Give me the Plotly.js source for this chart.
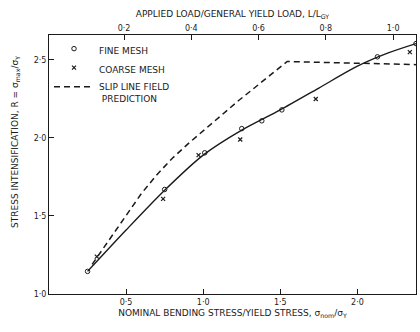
<!DOCTYPE html>
<html>
<head>
<meta charset="utf-8">
<script src="https://cdn.plot.ly/plotly-3.0.1.min.js"></script>
<style>html,body{margin:0;padding:0;background:#fff;}#chart{width:420px;height:332px;}</style>
</head>
<body>
<div id="chart"></div>
<script>
// Fine mesh results (open circles)
const fineX = [0.25, 0.75, 1.01, 1.25, 1.38, 1.51, 2.13, 2.38];
const fineY = [1.145, 1.67, 1.905, 2.06, 2.11, 2.18, 2.52, 2.605];
// Coarse mesh results (crosses)
const coarseX = [0.31, 0.74, 0.97, 1.24, 1.73, 2.34];
const coarseY = [1.24, 1.61, 1.89, 1.99, 2.25, 2.55];
// Smooth curve through the finite element results
const fitX = [0.25, 0.5, 0.75, 1.0, 1.25, 1.5, 1.75, 2.0, 2.2, 2.38];
const fitY = [1.145, 1.41, 1.665, 1.89, 2.05, 2.18, 2.32, 2.46, 2.545, 2.605];
// Slip line field prediction (dashed)
const slipX = [0.28, 0.45, 0.6, 0.7, 0.8, 0.91, 1.05, 1.23, 1.545, 2.38];
const slipY = [1.19, 1.43, 1.645, 1.765, 1.87, 1.97, 2.09, 2.24, 2.49, 2.47];
// Tick labels
const xTickVals = [0.5, 1.0, 1.5, 2.0];
const xTickText = ['0·5', '1·0', '1·5', '2·0'];
const yTickVals = [1.0, 1.5, 2.0, 2.5];
const yTickText = ['1·0', '1·5', '2·0', '2·5'];
const topTickVals = [0.2, 0.4, 0.6, 0.8, 1.0];
const topTickText = ['0·2', '0·4', '0·6', '0·8', '1·0'];

const ink = '#1a1a1a';
const fnt = {family: 'DejaVu Sans', size: 9, color: ink};

const traces = [
  {x: fitX, y: fitY, mode: 'lines', line: {color: ink, width: 1.4, shape: 'spline', smoothing: 0.8}, showlegend: false, hoverinfo: 'skip'},
  {x: fineX, y: fineY, mode: 'markers', name: 'FINE MESH',
   marker: {symbol: 'circle-open', size: 4.5, color: ink, line: {width: 1, color: ink}}},
  {x: coarseX, y: coarseY, mode: 'markers', name: 'COARSE MESH',
   marker: {symbol: 'x-thin', size: 4, color: ink, line: {width: 1.2, color: ink}}},
  {x: slipX, y: slipY, mode: 'lines', name: 'SLIP LINE FIELD<br> PREDICTION',
   line: {color: ink, width: 1.5, dash: '6px,4px', shape: 'linear'}},
  {x: [0.5], y: [1.5], xaxis: 'x2', mode: 'markers', marker: {opacity: 0}, showlegend: false, hoverinfo: 'skip'}
];

const layout = {
  width: 420, height: 332,
  margin: {l: 49, r: 4, t: 35, b: 38},
  paper_bgcolor: '#fff', plot_bgcolor: '#fff',
  font: fnt,
  showlegend: true,
  legend: {x: 0.0, y: 0.995, xanchor: 'left', yanchor: 'top', bgcolor: 'rgba(0,0,0,0)',
           font: {family: 'DejaVu Sans', size: 9, color: ink}, itemwidth: 40, valign: 'top',
           tracegroupgap: 0},
  xaxis: {range: [0, 2.38], showgrid: false, zeroline: false, showline: true, linecolor: ink, linewidth: 1,
          ticks: 'inside', ticklen: 5, tickcolor: ink, tickvals: xTickVals, ticktext: xTickText,
          tickfont: {family: 'DejaVu Sans', size: 8, color: ink},
          title: {text: 'NOMINAL BENDING STRESS/YIELD STRESS, σ<sub>nom</sub>/σ<sub>Y</sub>', font: fnt, standoff: 4}},
  xaxis2: {overlaying: 'x', side: 'top', range: [-0.023, 1.068], showgrid: false, zeroline: false,
           showline: true, linecolor: ink, linewidth: 1, ticks: 'inside', ticklen: 5, tickcolor: ink,
           tickvals: topTickVals, ticktext: topTickText,
           tickfont: {family: 'DejaVu Sans', size: 8, color: ink},
           title: {text: 'APPLIED LOAD/GENERAL YIELD LOAD, L/L<sub>GY</sub>', font: fnt, standoff: 4}},
  yaxis: {range: [1.0, 2.66], showgrid: false, zeroline: false, showline: true, mirror: true,
          linecolor: ink, linewidth: 1, ticks: 'inside', ticklen: 5, tickcolor: ink,
          tickvals: yTickVals, ticktext: yTickText,
          tickfont: {family: 'DejaVu Sans', size: 8, color: ink}},
  annotations: [
    {text: 'STRESS INTENSIFICATION, R = σ<sub>max</sub>/σ<sub>Y</sub>', textangle: -90,
     xref: 'paper', yref: 'paper', x: -0.09, y: 0.587, xanchor: 'center', yanchor: 'middle',
     showarrow: false, font: fnt}
  ]
};

Plotly.newPlot('chart', traces, layout, {staticPlot: true, displayModeBar: false});
</script>
</body>
</html>
